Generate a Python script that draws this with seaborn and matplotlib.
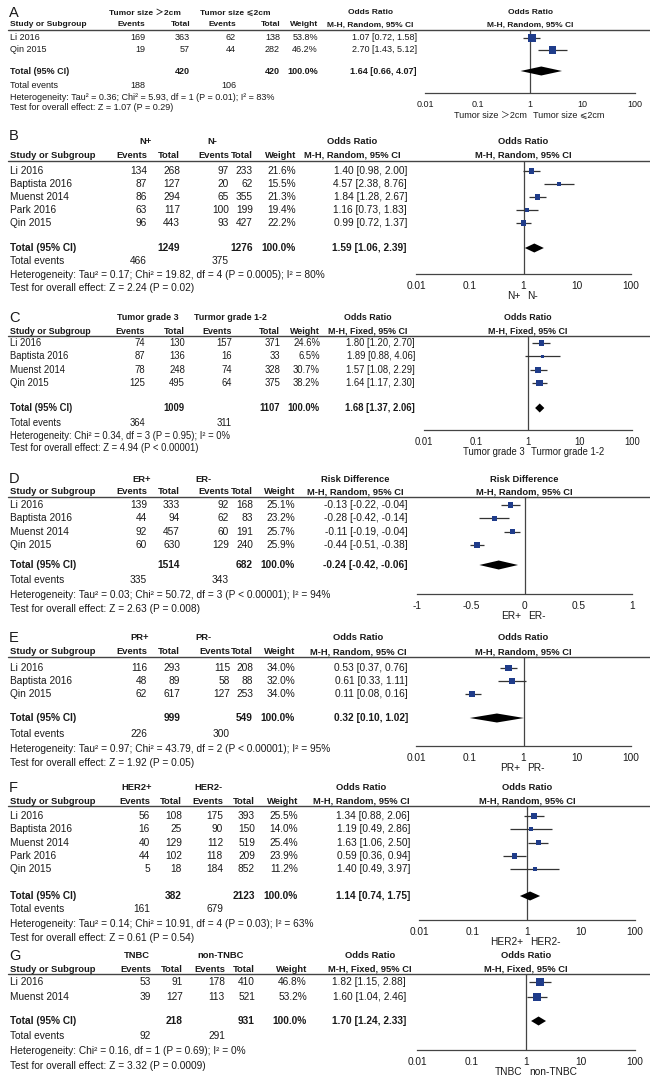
import pandas as pd
import matplotlib
matplotlib.use("Agg")
import matplotlib.pyplot as plt
import seaborn as sns

sns.set_style("white")
plt.rcParams["font.family"] = ["Liberation Sans", "Noto Sans CJK SC", "DejaVu Sans"]

W, H = 650, 1084
NAVY = "#1f3c8a"
INK = "#1a1a1a"
GREY = "#444444"

# ---------------- data ----------------
A_STUDY = ["Li 2016", "Qin 2015"]
A_EV1 = [169, 19]
A_TOT1 = [363, 57]
A_EV2 = [62, 44]
A_TOT2 = [138, 282]
A_WEIGHT = [53.8, 46.2]
A_EST = [1.07, 2.70]
A_LO = [0.72, 1.43]
A_HI = [1.58, 5.12]
A_TOTAL = [420, 420]
A_POOLED = [1.64, 0.66, 4.07]
A_EVENTS = [188, 106]
A_GROUPS = ["Tumor size ＞2cm", "Tumor size ⩽2cm"]
A_HET = "Heterogeneity: Tau² = 0.36; Chi² = 5.93, df = 1 (P = 0.01); I² = 83%"
A_TEST = "Test for overall effect: Z = 1.07 (P = 0.29)"

B_STUDY = ["Li 2016", "Baptista 2016", "Muenst 2014", "Park 2016", "Qin 2015"]
B_EV1 = [134, 87, 86, 63, 96]
B_TOT1 = [268, 127, 294, 117, 443]
B_EV2 = [97, 20, 65, 100, 93]
B_TOT2 = [233, 62, 355, 199, 427]
B_WEIGHT = [21.6, 15.5, 21.3, 19.4, 22.2]
B_EST = [1.40, 4.57, 1.84, 1.16, 0.99]
B_LO = [0.98, 2.38, 1.28, 0.73, 0.72]
B_HI = [2.00, 8.76, 2.67, 1.83, 1.37]
B_TOTAL = [1249, 1276]
B_POOLED = [1.59, 1.06, 2.39]
B_EVENTS = [466, 375]
B_GROUPS = ["N+", "N-"]
B_HET = "Heterogeneity: Tau² = 0.17; Chi² = 19.82, df = 4 (P = 0.0005); I² = 80%"
B_TEST = "Test for overall effect: Z = 2.24 (P = 0.02)"

C_STUDY = ["Li 2016", "Baptista 2016", "Muenst 2014", "Qin 2015"]
C_EV1 = [74, 87, 78, 125]
C_TOT1 = [130, 136, 248, 495]
C_EV2 = [157, 16, 74, 64]
C_TOT2 = [371, 33, 328, 375]
C_WEIGHT = [24.6, 6.5, 30.7, 38.2]
C_EST = [1.80, 1.89, 1.57, 1.64]
C_LO = [1.20, 0.88, 1.08, 1.17]
C_HI = [2.70, 4.06, 2.29, 2.30]
C_TOTAL = [1009, 1107]
C_POOLED = [1.68, 1.37, 2.06]
C_EVENTS = [364, 311]
C_GROUPS = ["Tumor grade 3", "Turmor grade 1-2"]
C_HET = "Heterogeneity: Chi² = 0.34, df = 3 (P = 0.95); I² = 0%"
C_TEST = "Test for overall effect: Z = 4.94 (P < 0.00001)"

D_STUDY = ["Li 2016", "Baptista 2016", "Muenst 2014", "Qin 2015"]
D_EV1 = [139, 44, 92, 60]
D_TOT1 = [333, 94, 457, 630]
D_EV2 = [92, 62, 60, 129]
D_TOT2 = [168, 83, 191, 240]
D_WEIGHT = [25.1, 23.2, 25.7, 25.9]
D_EST = [-0.13, -0.28, -0.11, -0.44]
D_LO = [-0.22, -0.42, -0.19, -0.51]
D_HI = [-0.04, -0.14, -0.04, -0.38]
D_TOTAL = [1514, 682]
D_POOLED = [-0.24, -0.42, -0.06]
D_EVENTS = [335, 343]
D_GROUPS = ["ER+", "ER-"]
D_HET = "Heterogeneity: Tau² = 0.03; Chi² = 50.72, df = 3 (P < 0.00001); I² = 94%"
D_TEST = "Test for overall effect: Z = 2.63 (P = 0.008)"

E_STUDY = ["Li 2016", "Baptista 2016", "Qin 2015"]
E_EV1 = [116, 48, 62]
E_TOT1 = [293, 89, 617]
E_EV2 = [115, 58, 127]
E_TOT2 = [208, 88, 253]
E_WEIGHT = [34.0, 32.0, 34.0]
E_EST = [0.53, 0.61, 0.11]
E_LO = [0.37, 0.33, 0.08]
E_HI = [0.76, 1.11, 0.16]
E_TOTAL = [999, 549]
E_POOLED = [0.32, 0.10, 1.02]
E_EVENTS = [226, 300]
E_GROUPS = ["PR+", "PR-"]
E_HET = "Heterogeneity: Tau² = 0.97; Chi² = 43.79, df = 2 (P < 0.00001); I² = 95%"
E_TEST = "Test for overall effect: Z = 1.92 (P = 0.05)"

F_STUDY = ["Li 2016", "Baptista 2016", "Muenst 2014", "Park 2016", "Qin 2015"]
F_EV1 = [56, 16, 40, 44, 5]
F_TOT1 = [108, 25, 129, 102, 18]
F_EV2 = [175, 90, 112, 118, 184]
F_TOT2 = [393, 150, 519, 209, 852]
F_WEIGHT = [25.5, 14.0, 25.4, 23.9, 11.2]
F_EST = [1.34, 1.19, 1.63, 0.59, 1.40]
F_LO = [0.88, 0.49, 1.06, 0.36, 0.49]
F_HI = [2.06, 2.86, 2.50, 0.94, 3.97]
F_TOTAL = [382, 2123]
F_POOLED = [1.14, 0.74, 1.75]
F_EVENTS = [161, 679]
F_GROUPS = ["HER2+", "HER2-"]
F_HET = "Heterogeneity: Tau² = 0.14; Chi² = 10.91, df = 4 (P = 0.03); I² = 63%"
F_TEST = "Test for overall effect: Z = 0.61 (P = 0.54)"

G_STUDY = ["Li 2016", "Muenst 2014"]
G_EV1 = [53, 39]
G_TOT1 = [91, 127]
G_EV2 = [178, 113]
G_TOT2 = [410, 521]
G_WEIGHT = [46.8, 53.2]
G_EST = [1.82, 1.60]
G_LO = [1.15, 1.04]
G_HI = [2.88, 2.46]
G_TOTAL = [218, 931]
G_POOLED = [1.70, 1.24, 2.33]
G_EVENTS = [92, 291]
G_GROUPS = ["TNBC", "non-TNBC"]
G_HET = "Heterogeneity: Chi² = 0.16, df = 1 (P = 0.69); I² = 0%"
G_TEST = "Test for overall effect: Z = 3.32 (P = 0.0009)"

OR_TICKS = [0.01, 0.1, 1, 10, 100]
OR_TICKLABELS = ["0.01", "0.1", "1", "10", "100"]
RD_TICKS = [-1, -0.5, 0, 0.5, 1]
RD_TICKLABELS = ["-1", "-0.5", "0", "0.5", "1"]


def mk(study, ev1, tot1, ev2, tot2, w, est, lo, hi, total, pooled, events,
       groups, het, test, measure="Odds Ratio", method="M-H, Random, 95% CI"):
    df = pd.DataFrame({"study": study, "ev1": ev1, "tot1": tot1, "ev2": ev2,
                       "tot2": tot2, "weight": w, "est": est, "lo": lo, "hi": hi})
    return dict(df=df, total=total, pooled=pooled, events=events, groups=groups,
                het=het, test=test, measure=measure, method=method)


PANELS = {
    "A": mk(A_STUDY, A_EV1, A_TOT1, A_EV2, A_TOT2, A_WEIGHT, A_EST, A_LO, A_HI,
            A_TOTAL, A_POOLED, A_EVENTS, A_GROUPS, A_HET, A_TEST),
    "B": mk(B_STUDY, B_EV1, B_TOT1, B_EV2, B_TOT2, B_WEIGHT, B_EST, B_LO, B_HI,
            B_TOTAL, B_POOLED, B_EVENTS, B_GROUPS, B_HET, B_TEST),
    "C": mk(C_STUDY, C_EV1, C_TOT1, C_EV2, C_TOT2, C_WEIGHT, C_EST, C_LO, C_HI,
            C_TOTAL, C_POOLED, C_EVENTS, C_GROUPS, C_HET, C_TEST,
            method="M-H, Fixed, 95% CI"),
    "D": mk(D_STUDY, D_EV1, D_TOT1, D_EV2, D_TOT2, D_WEIGHT, D_EST, D_LO, D_HI,
            D_TOTAL, D_POOLED, D_EVENTS, D_GROUPS, D_HET, D_TEST,
            measure="Risk Difference"),
    "E": mk(E_STUDY, E_EV1, E_TOT1, E_EV2, E_TOT2, E_WEIGHT, E_EST, E_LO, E_HI,
            E_TOTAL, E_POOLED, E_EVENTS, E_GROUPS, E_HET, E_TEST),
    "F": mk(F_STUDY, F_EV1, F_TOT1, F_EV2, F_TOT2, F_WEIGHT, F_EST, F_LO, F_HI,
            F_TOTAL, F_POOLED, F_EVENTS, F_GROUPS, F_HET, F_TEST),
    "G": mk(G_STUDY, G_EV1, G_TOT1, G_EV2, G_TOT2, G_WEIGHT, G_EST, G_LO, G_HI,
            G_TOTAL, G_POOLED, G_EVENTS, G_GROUPS, G_HET, G_TEST,
            method="M-H, Fixed, 95% CI"),
}

# layout in pixels (y from top); fs = body font size of that panel
LAYOUT = {
    "A": dict(fs=6.5, letter=13, top=13, head=25, line=30, row0=38, step=12, total=71, ev=85, het=97,
              test=108, axis=93, cols=(145, 190, 236, 280, 318), or_r=417, or_c=370, g_c=(145, 235),
              fx=(425, 635)),
    "B": dict(fs=7.25, letter=136, top=142, head=155, line=161, row0=171, step=13, total=248, ev=261, het=275,
              test=288, axis=274, cols=(147, 180, 229, 253, 296), or_r=407, or_c=352, g_c=(145, 212),
              fx=(416, 631)),
    "C": dict(fs=6.85, letter=318, top=318, head=331, line=336, row0=343, step=13.3, total=408, ev=423, het=436,
              test=448, axis=430, cols=(145, 185, 232, 280, 320), or_r=415, or_c=368, g_c=(148, 230),
              fx=(424, 632)),
    "D": dict(fs=7.25, letter=479, top=479, head=492, line=497, row0=505, step=13.3, total=565, ev=580, het=595,
              test=609, axis=594, cols=(147, 180, 229, 253, 295), or_r=408, or_c=355, g_c=(142, 203),
              fx=(417, 632)),
    "E": dict(fs=7.25, letter=638, top=638, head=652, line=657, row0=668, step=13, total=718, ev=734, het=749,
              test=763, axis=746, cols=(147, 180, 230, 253, 295), or_r=408, or_c=358, g_c=(140, 203),
              fx=(416, 631)),
    "F": dict(fs=7.25, letter=788, top=788, head=801, line=806, row0=816, step=13.3, total=896, ev=909, het=924,
              test=938, axis=920, cols=(150, 182, 223, 255, 298), or_r=410, or_c=361, g_c=(137, 208),
              fx=(419, 635)),
    "G": dict(fs=7.25, letter=956, top=956, head=969, line=974, row0=982, step=15, total=1021, ev=1036, het=1051,
              test=1066, axis=1050, cols=(151, 183, 225, 255, 307), or_r=406, or_c=370, g_c=(137, 221),
              fx=(417, 635)),
}

fig = plt.figure(figsize=(W / 100, H / 100), dpi=100)
bg = fig.add_axes([0, 0, 1, 1])
bg.set_xlim(0, W)
bg.set_ylim(H, 0)
bg.axis("off")


def fmt_ci(e, l, h):
    return f"{e:.2f} [{l:.2f}, {h:.2f}]"


for key, p in PANELS.items():
    L = LAYOUT[key]
    fs = L["fs"]
    hs = fs * 0.93  # bold header text is a touch narrower in the original

    def txt(x, y, s, ha="left", bold=False, size=None):
        bg.text(x, y, s, ha=ha, va="center", fontsize=size or fs, color=INK,
                fontweight="bold" if bold else "normal")

    df = p["df"].copy()
    df["y"] = [L["row0"] + L["step"] * i for i in range(len(df))]
    c = L["cols"]
    fx0, fx1 = L["fx"]
    fcen = (fx0 + fx1) / 2

    # headers
    bg.text(9, L["letter"], key, fontsize=10.5, ha="left", va="center",
            color=INK, fontweight="light")
    txt(L["g_c"][0], L["top"], p["groups"][0], ha="center", bold=True, size=hs)
    txt(L["g_c"][1], L["top"], p["groups"][1], ha="center", bold=True, size=hs)
    txt(L["or_c"], L["top"], p["measure"], ha="center", bold=True, size=hs)
    txt(fcen, L["top"], p["measure"], ha="center", bold=True, size=hs)
    txt(10, L["head"], "Study or Subgroup", bold=True, size=hs)
    for x, s in zip(c, ["Events", "Total", "Events", "Total", "Weight"]):
        txt(x, L["head"], s, ha="right", bold=True, size=hs)
    txt(L["or_c"], L["head"], p["method"], ha="center", bold=True, size=hs)
    txt(fcen, L["head"], p["method"], ha="center", bold=True, size=hs)
    bg.plot([8, W], [L["line"], L["line"]], color=GREY, lw=1.0)

    # study rows
    for r in df.itertuples():
        txt(10, r.y, r.study)
        for x, v in zip(c[:4], [r.ev1, r.tot1, r.ev2, r.tot2]):
            txt(x, r.y, str(v), ha="right")
        txt(c[4], r.y, f"{r.weight:.1f}%", ha="right")
        txt(L["or_r"], r.y, fmt_ci(r.est, r.lo, r.hi), ha="right")

    # totals
    txt(10, L["total"], "Total (95% CI)", bold=True)
    txt(c[1], L["total"], str(p["total"][0]), ha="right", bold=True)
    txt(c[3], L["total"], str(p["total"][1]), ha="right", bold=True)
    txt(c[4], L["total"], "100.0%", ha="right", bold=True)
    txt(L["or_r"], L["total"], fmt_ci(*p["pooled"]), ha="right", bold=True)
    txt(10, L["ev"], "Total events")
    txt(c[0], L["ev"], str(p["events"][0]), ha="right")
    txt(c[2], L["ev"], str(p["events"][1]), ha="right")
    txt(10, L["het"], p["het"])
    txt(10, L["test"], p["test"])

    # forest axes: y data in pixel units
    ax = fig.add_axes([fx0 / W, 1 - L["axis"] / H, (fx1 - fx0) / W,
                       (L["axis"] - L["line"]) / H])
    ax.patch.set_alpha(0)
    rd = p["measure"] == "Risk Difference"
    if rd:
        ax.set_xlim(-1, 1)
        ticks, labels, null = RD_TICKS, RD_TICKLABELS, 0
    else:
        ax.set_xscale("log")
        ax.set_xlim(0.01, 100)
        ticks, labels, null = OR_TICKS, OR_TICKLABELS, 1
    ax.set_ylim(L["axis"], L["line"])

    ax.axvline(null, color=GREY, lw=0.9, zorder=1)
    ax.hlines(df["y"], df["lo"], df["hi"], color="#333333", lw=0.9, zorder=2)
    sns.scatterplot(data=df, x="est", y="y", size="weight", sizes=(0, 62),
                    size_norm=(0, 100), marker="s", color=NAVY, linewidth=0,
                    legend=False, ax=ax, zorder=3)
    e, lo, hi = p["pooled"]
    yt, hh = L["total"], 4.5
    ax.fill([lo, e, hi, e], [yt, yt - hh, yt, yt + hh], color="black", lw=0, zorder=3)

    ax.set_xticks(ticks)
    ax.set_xticklabels(labels)
    ax.minorticks_off()
    ax.set_yticks([])
    ax.set_xlabel("")
    ax.set_ylabel("")
    for s in ["top", "left", "right"]:
        ax.spines[s].set_visible(False)
    ax.spines["bottom"].set_color(GREY)
    ax.spines["bottom"].set_linewidth(0.9)
    ax.tick_params(axis="x", direction="inout", length=6, width=0.9, colors=GREY,
                   labelcolor=INK, labelsize=fs, pad=2)

    gy = L["axis"] + 22
    ax.annotate(p["groups"][0], xy=(null, gy), xytext=(-2.5, 0), textcoords="offset points",
                ha="right", va="center", fontsize=fs, color=INK, annotation_clip=False)
    ax.annotate(p["groups"][1], xy=(null, gy), xytext=(2.5, 0), textcoords="offset points",
                ha="left", va="center", fontsize=fs, color=INK, annotation_clip=False)

fig.savefig("out.png", dpi=100)
